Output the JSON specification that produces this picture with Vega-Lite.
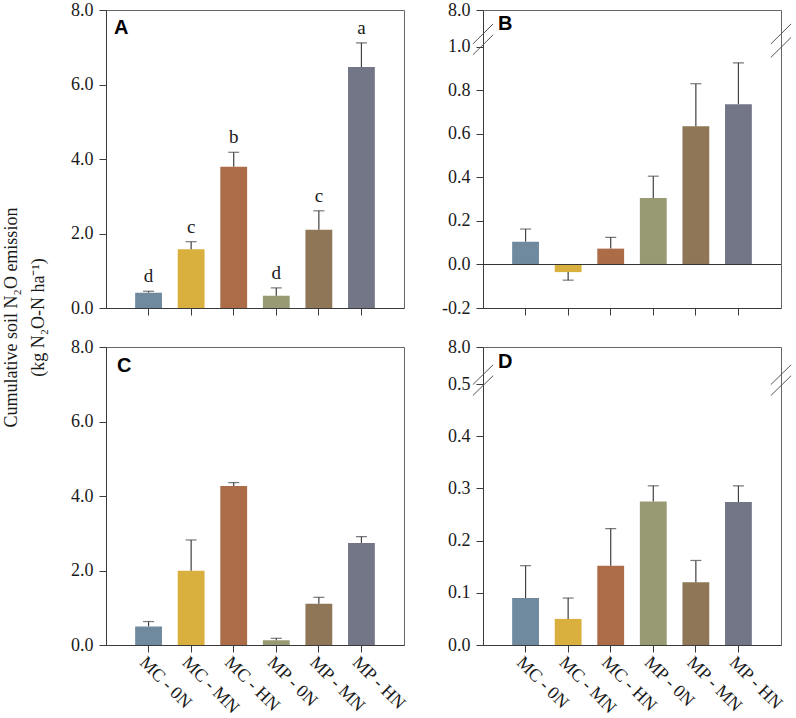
{
  "$schema": "https://vega.github.io/schema/vega-lite/v6.json",
  "background": "white",
  "padding": {"left": 1, "top": 0, "right": 0, "bottom": 0},
  "config": {
    "view": {"stroke": "#666666", "strokeWidth": 1},
    "axis": {"labelFont": "Liberation Serif", "labelFontSize": 18, "labelColor": "#1a1a1a", "domainColor": "#3a3a3a", "tickColor": "#3a3a3a", "tickSize": 7, "grid": false, "labelPadding": 6, "domainWidth": 1, "tickWidth": 1},
    "axisX": {"labelAngle": 45, "labelAlign": "left", "labelBaseline": "top", "labelPadding": 1, "labelFontSize": 18},
    "text": {"font": "Liberation Serif"}
  },
  "datasets": {
    "bars": [
      {"panel": "A", "trt": "MC - 0N", "value": 0.41, "errEnd": 0.45, "letter": "d"},
      {"panel": "A", "trt": "MC - MN", "value": 1.58, "errEnd": 1.78, "letter": "c"},
      {"panel": "A", "trt": "MC - HN", "value": 3.79, "errEnd": 4.18, "letter": "b"},
      {"panel": "A", "trt": "MP - 0N", "value": 0.33, "errEnd": 0.54, "letter": "d"},
      {"panel": "A", "trt": "MP - MN", "value": 2.10, "errEnd": 2.61, "letter": "c"},
      {"panel": "A", "trt": "MP - HN", "value": 6.47, "errEnd": 7.12, "letter": "a"},
      {"panel": "B", "trt": "MC - 0N", "value": 0.105, "errEnd": 0.163, "letter": ""},
      {"panel": "B", "trt": "MC - MN", "value": -0.035, "errEnd": -0.072, "letter": ""},
      {"panel": "B", "trt": "MC - HN", "value": 0.073, "errEnd": 0.125, "letter": ""},
      {"panel": "B", "trt": "MP - 0N", "value": 0.306, "errEnd": 0.406, "letter": ""},
      {"panel": "B", "trt": "MP - MN", "value": 0.636, "errEnd": 0.831, "letter": ""},
      {"panel": "B", "trt": "MP - HN", "value": 0.737, "errEnd": 0.927, "letter": ""},
      {"panel": "C", "trt": "MC - 0N", "value": 0.50, "errEnd": 0.63, "letter": ""},
      {"panel": "C", "trt": "MC - MN", "value": 1.99, "errEnd": 2.82, "letter": ""},
      {"panel": "C", "trt": "MC - HN", "value": 4.27, "errEnd": 4.36, "letter": ""},
      {"panel": "C", "trt": "MP - 0N", "value": 0.13, "errEnd": 0.18, "letter": ""},
      {"panel": "C", "trt": "MP - MN", "value": 1.11, "errEnd": 1.28, "letter": ""},
      {"panel": "C", "trt": "MP - HN", "value": 2.74, "errEnd": 2.91, "letter": ""},
      {"panel": "D", "trt": "MC - 0N", "value": 0.090, "errEnd": 0.152, "letter": ""},
      {"panel": "D", "trt": "MC - MN", "value": 0.050, "errEnd": 0.090, "letter": ""},
      {"panel": "D", "trt": "MC - HN", "value": 0.152, "errEnd": 0.223, "letter": ""},
      {"panel": "D", "trt": "MP - 0N", "value": 0.275, "errEnd": 0.305, "letter": ""},
      {"panel": "D", "trt": "MP - MN", "value": 0.120, "errEnd": 0.162, "letter": ""},
      {"panel": "D", "trt": "MP - HN", "value": 0.274, "errEnd": 0.305, "letter": ""}
    ]
  },
  "columns": 2,
  "spacing": {"row": 39, "column": 79},
  "bounds": "flush",
  "concat": [
    {
      "width": 298, "height": 298,
      "resolve": {"scale": {"x": "independent"}},
      "layer": [
        {
          "data": {"name": "bars"},
          "transform": [{"filter": "datum.panel === 'A'"}],
          "encoding": {
            "x": {"field": "trt", "type": "nominal", "scale": {"domain": ["MC - 0N", "MC - MN", "MC - HN", "MP - 0N", "MP - MN", "MP - HN"], "paddingInner": 0.37, "paddingOuter": 0.685}, "axis": {"title": null, "labels": false}}
          },
          "layer": [
            {
              "mark": {"type": "bar"},
              "encoding": {
                "y": {"field": "value", "type": "quantitative", "scale": {"domain": [0, 8], "nice": false}, "axis": {"values": [0, 2, 4, 6, 8], "format": ".1f", "title": ["Cumulative soil N₂O emission", "(kg N₂O-N ha⁻¹)"], "titleFont": "Liberation Serif", "titleFontSize": 18, "titleFontWeight": "normal", "titleColor": "#1a1a1a", "titleAngle": -90, "titleAlign": "center", "titleBaseline": "bottom", "titleLineHeight": 27, "titleX": -86, "titleY": 307}},
                "color": {"field": "trt", "type": "nominal", "scale": {"domain": ["MC - 0N", "MC - MN", "MC - HN", "MP - 0N", "MP - MN", "MP - HN"], "range": ["#6f8a9f", "#d9b03e", "#ac6c47", "#989a74", "#8e7657", "#737687"]}, "legend": null}
              }
            },
            {
              "mark": {"type": "rule", "color": "#404040", "strokeWidth": 1.2},
              "encoding": {"y": {"field": "value", "type": "quantitative"}, "y2": {"field": "errEnd"}}
            },
            {
              "mark": {"type": "tick", "color": "#404040", "size": 11, "thickness": 1.2},
              "encoding": {"y": {"field": "errEnd", "type": "quantitative"}}
            },
            {
              "mark": {"type": "text", "fontSize": 19, "baseline": "bottom", "dy": -5, "color": "#1a1a1a"},
              "encoding": {"y": {"field": "errEnd", "type": "quantitative"}, "text": {"field": "letter"}}
            }
          ]
        },
        {
          "data": {"values": [{}]},
          "layer": [
            {
              "mark": {"type": "text", "text": "A", "font": "Liberation Sans", "fontWeight": "bold", "fontSize": 20, "align": "left", "baseline": "alphabetic", "dx": 8, "dy": 24, "color": "#000"},
              "encoding": {
                "x": {"datum": 0, "type": "quantitative", "scale": {"domain": [0, 1]}, "axis": null},
                "y": {"datum": 8, "type": "quantitative"}
              }
            }
          ]
        }
      ]
    },
    {
      "width": 298, "height": 298,
      "resolve": {"scale": {"x": "independent"}},
      "layer": [
        {
          "data": {"name": "bars"},
          "transform": [{"filter": "datum.panel === 'B'"}],
          "encoding": {
            "x": {"field": "trt", "type": "nominal", "scale": {"domain": ["MC - 0N", "MC - MN", "MC - HN", "MP - 0N", "MP - MN", "MP - HN"], "paddingInner": 0.37, "paddingOuter": 0.685}, "axis": {"title": null, "labels": false}}
          },
          "layer": [
            {
              "mark": {"type": "bar"},
              "encoding": {
                "y": {"field": "value", "type": "quantitative", "scale": {"domain": [-0.2, 1.17], "nice": false, "zero": false}, "axis": {"values": [-0.2, 0, 0.2, 0.4, 0.6, 0.8, 1.0, 1.17], "labelExpr": "datum.value > 1.1 ? '8.0' : replace(format(datum.value, '.1f'), '−', '-')", "title": null}},
                "color": {"field": "trt", "type": "nominal", "scale": {"domain": ["MC - 0N", "MC - MN", "MC - HN", "MP - 0N", "MP - MN", "MP - HN"], "range": ["#6f8a9f", "#d9b03e", "#ac6c47", "#989a74", "#8e7657", "#737687"]}, "legend": null}
              }
            },
            {
              "mark": {"type": "rule", "color": "#404040", "strokeWidth": 1.2},
              "encoding": {"y": {"field": "value", "type": "quantitative"}, "y2": {"field": "errEnd"}}
            },
            {
              "mark": {"type": "tick", "color": "#404040", "size": 11, "thickness": 1.2},
              "encoding": {"y": {"field": "errEnd", "type": "quantitative"}}
            }
          ]
        },
        {
          "data": {"values": [{}]},
          "encoding": {"x": {"datum": 0, "type": "quantitative", "scale": {"domain": [0, 1]}, "axis": null}},
          "layer": [
            {
              "mark": {"type": "rule", "color": "#333333", "strokeWidth": 1},
              "encoding": {"x": {"datum": 0, "type": "quantitative"}, "x2": {"datum": 1}, "y": {"datum": 0, "type": "quantitative"}}
            },
            {
              "mark": {"type": "text", "text": "B", "font": "Liberation Sans", "fontWeight": "bold", "fontSize": 20, "align": "left", "baseline": "alphabetic", "dx": 15, "dy": 20, "color": "#000"},
              "encoding": {"x": {"datum": 0, "type": "quantitative"}, "y": {"datum": 1.17, "type": "quantitative"}}
            },
            {
              "mark": {"type": "rule", "color": "#555555", "strokeWidth": 1},
              "encoding": {"x": {"datum": -0.034, "type": "quantitative"}, "x2": {"datum": 0.034}, "y": {"datum": 0.964, "type": "quantitative"}, "y2": {"datum": 1.056}}
            },
            {
              "mark": {"type": "rule", "color": "#555555", "strokeWidth": 1},
              "encoding": {"x": {"datum": -0.034, "type": "quantitative"}, "x2": {"datum": 0.034}, "y": {"datum": 1.014, "type": "quantitative"}, "y2": {"datum": 1.106}}
            },
            {
              "mark": {"type": "rule", "color": "#555555", "strokeWidth": 1},
              "encoding": {"x": {"datum": 0.966, "type": "quantitative"}, "x2": {"datum": 1.034}, "y": {"datum": 0.952, "type": "quantitative"}, "y2": {"datum": 1.044}}
            },
            {
              "mark": {"type": "rule", "color": "#555555", "strokeWidth": 1},
              "encoding": {"x": {"datum": 0.966, "type": "quantitative"}, "x2": {"datum": 1.034}, "y": {"datum": 1.014, "type": "quantitative"}, "y2": {"datum": 1.106}}
            }
          ]
        }
      ]
    },
    {
      "width": 298, "height": 298,
      "resolve": {"scale": {"x": "independent"}},
      "layer": [
        {
          "data": {"name": "bars"},
          "transform": [{"filter": "datum.panel === 'C'"}],
          "encoding": {
            "x": {"field": "trt", "type": "nominal", "scale": {"domain": ["MC - 0N", "MC - MN", "MC - HN", "MP - 0N", "MP - MN", "MP - HN"], "paddingInner": 0.37, "paddingOuter": 0.685}, "axis": {"title": null}}
          },
          "layer": [
            {
              "mark": {"type": "bar"},
              "encoding": {
                "y": {"field": "value", "type": "quantitative", "scale": {"domain": [0, 8], "nice": false}, "axis": {"values": [0, 2, 4, 6, 8], "format": ".1f", "title": null}},
                "color": {"field": "trt", "type": "nominal", "scale": {"domain": ["MC - 0N", "MC - MN", "MC - HN", "MP - 0N", "MP - MN", "MP - HN"], "range": ["#6f8a9f", "#d9b03e", "#ac6c47", "#989a74", "#8e7657", "#737687"]}, "legend": null}
              }
            },
            {
              "mark": {"type": "rule", "color": "#404040", "strokeWidth": 1.2},
              "encoding": {"y": {"field": "value", "type": "quantitative"}, "y2": {"field": "errEnd"}}
            },
            {
              "mark": {"type": "tick", "color": "#404040", "size": 11, "thickness": 1.2},
              "encoding": {"y": {"field": "errEnd", "type": "quantitative"}}
            }
          ]
        },
        {
          "data": {"values": [{}]},
          "layer": [
            {
              "mark": {"type": "text", "text": "C", "font": "Liberation Sans", "fontWeight": "bold", "fontSize": 20, "align": "left", "baseline": "alphabetic", "dx": 11, "dy": 25, "color": "#000"},
              "encoding": {
                "x": {"datum": 0, "type": "quantitative", "scale": {"domain": [0, 1]}, "axis": null},
                "y": {"datum": 8, "type": "quantitative"}
              }
            }
          ]
        }
      ]
    },
    {
      "width": 298, "height": 298,
      "resolve": {"scale": {"x": "independent"}},
      "layer": [
        {
          "data": {"name": "bars"},
          "transform": [{"filter": "datum.panel === 'D'"}],
          "encoding": {
            "x": {"field": "trt", "type": "nominal", "scale": {"domain": ["MC - 0N", "MC - MN", "MC - HN", "MP - 0N", "MP - MN", "MP - HN"], "paddingInner": 0.37, "paddingOuter": 0.685}, "axis": {"title": null}}
          },
          "layer": [
            {
              "mark": {"type": "bar"},
              "encoding": {
                "y": {"field": "value", "type": "quantitative", "scale": {"domain": [0, 0.571], "nice": false}, "axis": {"values": [0, 0.1, 0.2, 0.3, 0.4, 0.5, 0.571], "labelExpr": "datum.value > 0.55 ? '8.0' : format(datum.value, '.1f')", "title": null}},
                "color": {"field": "trt", "type": "nominal", "scale": {"domain": ["MC - 0N", "MC - MN", "MC - HN", "MP - 0N", "MP - MN", "MP - HN"], "range": ["#6f8a9f", "#d9b03e", "#ac6c47", "#989a74", "#8e7657", "#737687"]}, "legend": null}
              }
            },
            {
              "mark": {"type": "rule", "color": "#404040", "strokeWidth": 1.2},
              "encoding": {"y": {"field": "value", "type": "quantitative"}, "y2": {"field": "errEnd"}}
            },
            {
              "mark": {"type": "tick", "color": "#404040", "size": 11, "thickness": 1.2},
              "encoding": {"y": {"field": "errEnd", "type": "quantitative"}}
            }
          ]
        },
        {
          "data": {"values": [{}]},
          "encoding": {"x": {"datum": 0, "type": "quantitative", "scale": {"domain": [0, 1]}, "axis": null}},
          "layer": [
            {
              "mark": {"type": "text", "text": "D", "font": "Liberation Sans", "fontWeight": "bold", "fontSize": 20, "align": "left", "baseline": "alphabetic", "dx": 15, "dy": 21, "color": "#000"},
              "encoding": {"x": {"datum": 0, "type": "quantitative"}, "y": {"datum": 0.571, "type": "quantitative"}}
            },
            {
              "mark": {"type": "rule", "color": "#555555", "strokeWidth": 1},
              "encoding": {"x": {"datum": -0.034, "type": "quantitative"}, "x2": {"datum": 0.034}, "y": {"datum": 0.478, "type": "quantitative"}, "y2": {"datum": 0.516}}
            },
            {
              "mark": {"type": "rule", "color": "#555555", "strokeWidth": 1},
              "encoding": {"x": {"datum": -0.034, "type": "quantitative"}, "x2": {"datum": 0.034}, "y": {"datum": 0.499, "type": "quantitative"}, "y2": {"datum": 0.537}}
            },
            {
              "mark": {"type": "rule", "color": "#555555", "strokeWidth": 1},
              "encoding": {"x": {"datum": 0.966, "type": "quantitative"}, "x2": {"datum": 1.034}, "y": {"datum": 0.478, "type": "quantitative"}, "y2": {"datum": 0.516}}
            },
            {
              "mark": {"type": "rule", "color": "#555555", "strokeWidth": 1},
              "encoding": {"x": {"datum": 0.966, "type": "quantitative"}, "x2": {"datum": 1.034}, "y": {"datum": 0.499, "type": "quantitative"}, "y2": {"datum": 0.537}}
            }
          ]
        }
      ]
    }
  ]
}
